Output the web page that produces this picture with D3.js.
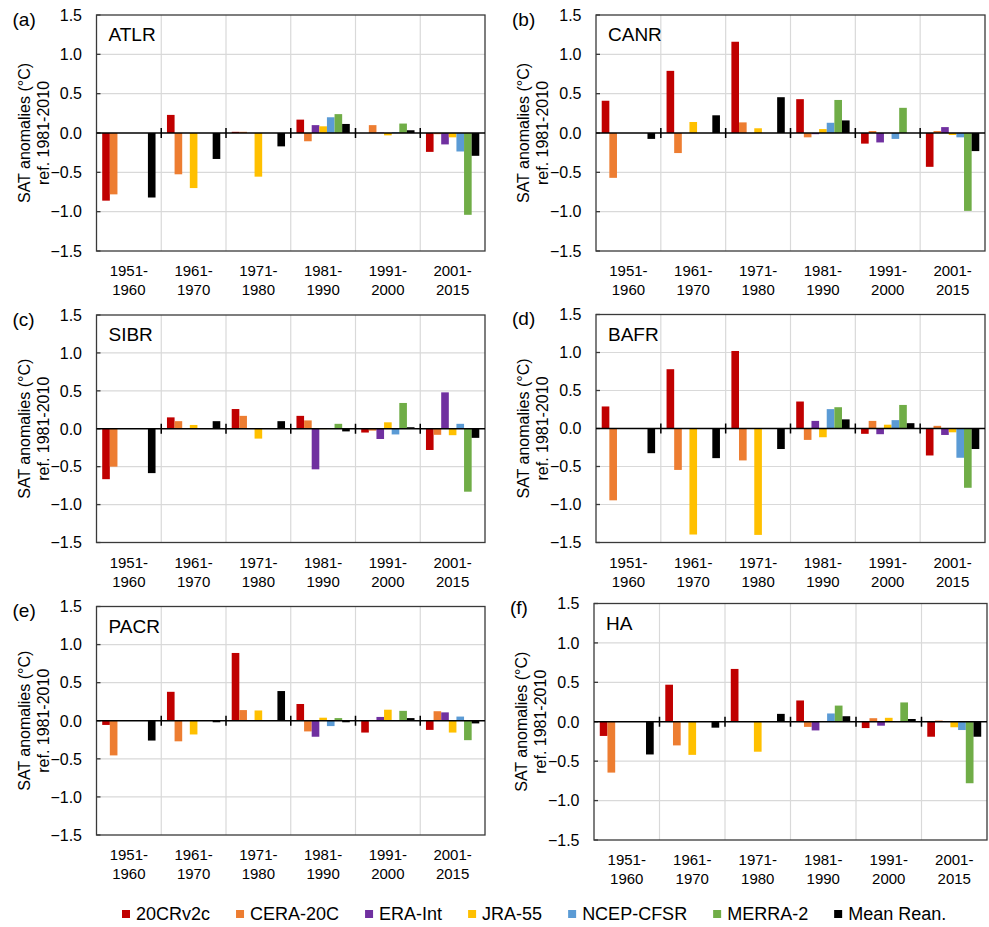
<!DOCTYPE html>
<html>
<head>
<meta charset="utf-8">
<script src="https://cdn.jsdelivr.net/npm/d3@7"></script>
<style>
  html, body { margin: 0; padding: 0; background: #fff; }
  svg { display: block; }
  text { font-family: Arial, "Liberation Sans", sans-serif; fill: #000; }
</style>
</head>
<body>
<svg id="chart" width="989" height="927"></svg>
<script>
// ---------- data ----------
const decades = ["1951-1960", "1961-1970", "1971-1980", "1981-1990", "1991-2000", "2001-2015"];
const decadeLines = [["1951-", "1960"], ["1961-", "1970"], ["1971-", "1980"], ["1981-", "1990"], ["1991-", "2000"], ["2001-", "2015"]];
const seriesNames = ["20CRv2c", "CERA-20C", "ERA-Int", "JRA-55", "NCEP-CFSR", "MERRA-2", "Mean Rean."];
const seriesColors = ["#C00000", "#ED7D31", "#7030A0", "#FFC000", "#5B9BD5", "#70AD47", "#000000"];
const yTicks = [-1.5, -1.0, -0.5, 0.0, 0.5, 1.0, 1.5];
const panelLetters = ["(a)", "(b)", "(c)", "(d)", "(e)", "(f)"];
const regionNames = ["ATLR", "CANR", "SIBR", "BAFR", "PACR", "HA"];

// rows = series (in seriesNames order), columns = decades
const ATLR = [
  [-0.86, 0.23, 0.015, 0.17, 0.0, -0.24],
  [-0.78, -0.525, 0.015, -0.105, 0.10, -0.015],
  [null, null, null, 0.10, 0.005, -0.145],
  [null, -0.70, -0.555, 0.085, -0.03, -0.055],
  [null, null, null, 0.20, 0.01, -0.235],
  [null, null, null, 0.24, 0.12, -1.04],
  [-0.82, -0.33, -0.17, 0.115, 0.035, -0.29]
];
const CANR = [
  [0.41, 0.79, 1.16, 0.43, -0.135, -0.43],
  [-0.57, -0.255, 0.135, -0.055, 0.025, 0.025],
  [null, null, null, -0.015, -0.12, 0.075],
  [null, 0.14, 0.06, 0.05, 0.0, -0.025],
  [null, null, null, 0.13, -0.075, -0.055],
  [null, null, null, 0.42, 0.32, -0.99],
  [-0.075, 0.225, 0.455, 0.16, 0.0, -0.23]
];
const SIBR = [
  [-0.665, 0.15, 0.26, 0.17, -0.05, -0.28],
  [-0.50, 0.10, 0.17, 0.11, -0.025, -0.08],
  [null, null, null, -0.535, -0.135, 0.48],
  [null, 0.05, -0.13, -0.005, 0.085, -0.085],
  [null, null, null, 0.0, -0.075, 0.065],
  [null, null, null, 0.065, 0.34, -0.83],
  [-0.585, 0.10, 0.10, -0.035, 0.02, -0.12]
];
const BAFR = [
  [0.29, 0.78, 1.02, 0.355, -0.07, -0.355],
  [-0.945, -0.545, -0.42, -0.15, 0.10, 0.035],
  [null, null, null, 0.10, -0.075, -0.085],
  [null, -1.395, -1.40, -0.115, 0.05, -0.05],
  [null, null, null, 0.255, 0.11, -0.385],
  [null, null, null, 0.28, 0.31, -0.78],
  [-0.325, -0.39, -0.27, 0.12, 0.07, -0.27]
];
const PACR = [
  [-0.055, 0.38, 0.89, 0.22, -0.155, -0.12],
  [-0.455, -0.27, 0.14, -0.14, 0.01, 0.125],
  [null, null, null, -0.21, 0.05, 0.11],
  [null, -0.18, 0.135, 0.04, 0.145, -0.155],
  [null, null, null, -0.07, 0.01, 0.055],
  [null, null, null, 0.035, 0.13, -0.255],
  [-0.26, -0.02, 0.39, -0.02, 0.035, -0.035]
];
const HA = [
  [-0.18, 0.47, 0.67, 0.27, -0.08, -0.19],
  [-0.645, -0.30, 0.0, -0.065, 0.045, 0.015],
  [null, null, null, -0.11, -0.05, 0.0],
  [null, -0.42, -0.38, 0.0, 0.05, -0.07],
  [null, null, null, 0.105, 0.0, -0.105],
  [null, null, null, 0.205, 0.245, -0.78],
  [-0.415, -0.075, 0.10, 0.07, 0.035, -0.19]
];
const regionData = [ATLR, CANR, SIBR, BAFR, PACR, HA];

// ---------- layout ----------
const panels = [
  { L: 96.5, R: 485, T: 15, B: 251 },
  { L: 596, R: 985, T: 15, B: 251 },
  { L: 96.5, R: 485, T: 315, B: 542.5 },
  { L: 596, R: 985, T: 314.5, B: 542.5 },
  { L: 96.5, R: 485, T: 606.5, B: 835 },
  { L: 594, R: 987, T: 603.5, B: 840 }
];

const svg = d3.select("#chart");

panels.forEach((p, pi) => {
  const data = regionData[pi];
  const g = svg.append("g");
  const x = d3.scaleBand().domain(decades).range([p.L, p.R]).padding(0);
  const y = d3.scaleLinear().domain([-1.5, 1.5]).range([p.B, p.T]);
  const gw = x.bandwidth();
  const bw = gw / 8.5;
  const xs = d3.scaleBand().domain(seriesNames).range([0.75 * bw, gw - 0.75 * bw]).padding(0);

  // horizontal gridlines
  g.selectAll("line.hg").data(yTicks.filter(t => t !== 0 && t !== 1.5 && t !== -1.5)).join("line")
    .attr("x1", p.L).attr("x2", p.R)
    .attr("y1", d => y(d)).attr("y2", d => y(d))
    .attr("stroke", "#d9d9d9").attr("stroke-width", 1.2);
  // vertical gridlines
  g.selectAll("line.vg").data(decades.slice(1)).join("line")
    .attr("x1", d => x(d)).attr("x2", d => x(d))
    .attr("y1", p.T).attr("y2", p.B)
    .attr("stroke", "#d9d9d9").attr("stroke-width", 1.2);

  // bars
  seriesNames.forEach((s, si) => {
    const vals = data[si].map((v, di) => ({ v, d: decades[di] })).filter(o => o.v !== null);
    g.selectAll(null).data(vals).join("rect")
      .attr("x", o => x(o.d) + xs(s))
      .attr("width", xs.bandwidth())
      .attr("y", o => y(Math.max(0, o.v)))
      .attr("height", o => Math.abs(y(o.v) - y(0)))
      .attr("fill", seriesColors[si]);
  });

  // frame
  g.append("rect")
    .attr("x", p.L).attr("y", p.T)
    .attr("width", p.R - p.L).attr("height", p.B - p.T)
    .attr("fill", "none").attr("stroke", "#3a3a3a").attr("stroke-width", 1.3);

  // left axis ticks (inside) and labels
  g.selectAll("line.yt").data(yTicks).join("line")
    .attr("x1", p.L).attr("x2", p.L + 4)
    .attr("y1", d => y(d)).attr("y2", d => y(d))
    .attr("stroke", "#3a3a3a").attr("stroke-width", 1.3);
  g.selectAll("text.yl").data(yTicks).join("text")
    .attr("x", p.L - 14.5)
    .attr("y", d => y(d))
    .attr("dy", "0.36em")
    .attr("text-anchor", "end")
    .attr("font-size", 16)
    .text(d => d3.format(".1f")(d));

  // zero line
  g.append("line")
    .attr("x1", p.L).attr("x2", p.R)
    .attr("y1", y(0)).attr("y2", y(0))
    .attr("stroke", "#000").attr("stroke-width", 1.6);
  g.selectAll("line.zt").data(decades.slice(1)).join("line")
    .attr("x1", d => x(d)).attr("x2", d => x(d))
    .attr("y1", y(0) - 5).attr("y2", y(0) + 5)
    .attr("stroke", "#000").attr("stroke-width", 1.5);

  // x labels (two lines)
  decades.forEach((d, di) => {
    const t = g.append("text")
      .attr("x", x(d) + gw / 2)
      .attr("text-anchor", "middle")
      .attr("font-size", 15);
    t.append("tspan").attr("x", x(d) + gw / 2).attr("y", p.B + 20).attr("dy", "0.36em").text(decadeLines[di][0]);
    t.append("tspan").attr("x", x(d) + gw / 2).attr("y", p.B + 39).attr("dy", "0.36em").text(decadeLines[di][1]);
  });

  // y title
  const cy = (p.T + p.B) / 2;
  g.append("text")
    .attr("transform", `translate(${p.L - 72.5},${cy}) rotate(-90)`)
    .attr("text-anchor", "middle").attr("dy", "0.36em")
    .attr("font-size", 16)
    .text("SAT anomalies (°C)");
  g.append("text")
    .attr("transform", `translate(${p.L - 53.5},${cy}) rotate(-90)`)
    .attr("text-anchor", "middle").attr("dy", "0.36em")
    .attr("font-size", 16)
    .text("ref. 1981-2010");

  // panel letter and region title
  g.append("text")
    .attr("x", p.L - 84).attr("y", p.T + 4).attr("dy", "0.36em")
    .attr("font-size", 19)
    .text(panelLetters[pi]);
  g.append("text")
    .attr("x", p.L + 12).attr("y", p.T + 19.5).attr("dy", "0.36em")
    .attr("font-size", 19)
    .text(regionNames[pi]);
});

// ---------- legend ----------
const legendFont = 18;
const legend = svg.append("g");
let lx = 122;
const ly = 914;
seriesNames.forEach((s, si) => {
  legend.append("rect")
    .attr("x", lx).attr("y", ly - 4)
    .attr("width", 8).attr("height", 8)
    .attr("fill", seriesColors[si]);
  const t = legend.append("text")
    .attr("x", lx + 14).attr("y", ly).attr("dy", "0.36em")
    .attr("font-size", legendFont)
    .text(s);
  const w = t.node().getComputedTextLength();
  lx += 14 + w + 26;
});
</script>
</body>
</html>
